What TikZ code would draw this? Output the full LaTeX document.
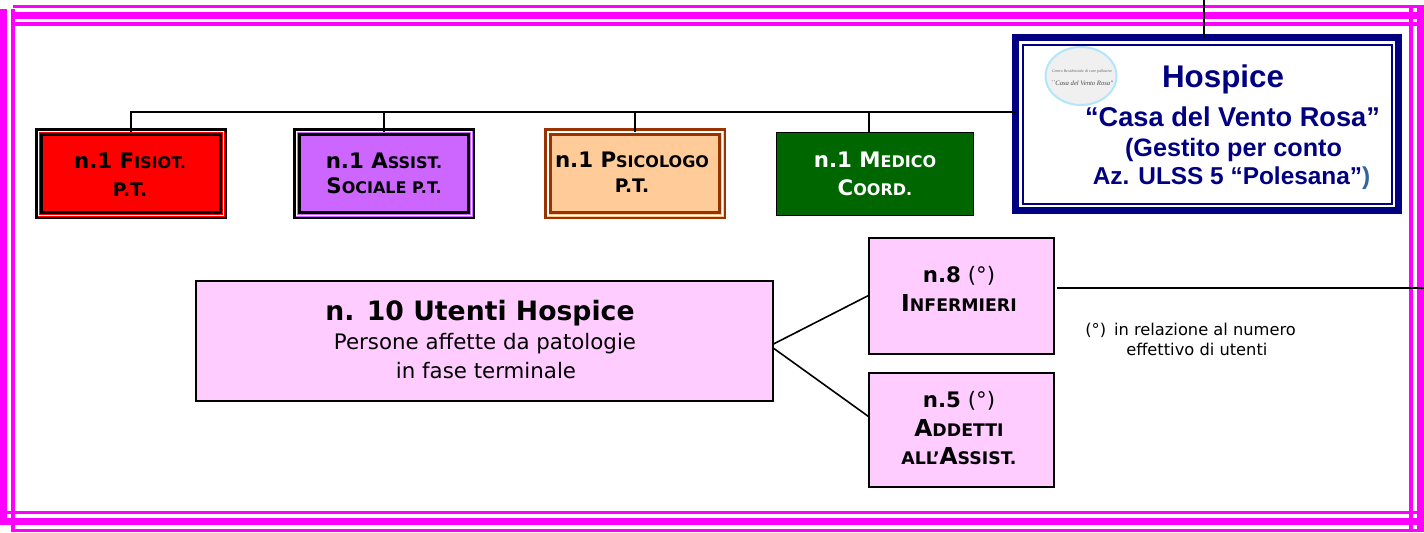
\documentclass[tikz,border=0pt]{standalone}
\usepackage{fontspec}
\usetikzlibrary{calc,shapes.geometric}
\setmainfont{Liberation Sans}
\newfontfamily\tah{DejaVu Sans}
\newfontfamily\logofont{Liberation Serif}
\definecolor{mag}{HTML}{FF00FF}
\definecolor{navy}{HTML}{000080}
\definecolor{lila}{HTML}{CC66FF}
\definecolor{peach}{HTML}{FFCC99}
\definecolor{brownb}{HTML}{993300}
\definecolor{dgreen}{HTML}{006600}
\definecolor{pinkb}{HTML}{FFCCFF}
\definecolor{steel}{HTML}{336699}
\newcommand{\fs}[1]{\fontsize{#1}{#1}\selectfont}
\newcommand{\capA}[2]{{\fs{16}#1\fs{12}#2}}
\newcommand{\capB}[2]{{\fs{17.5}#1\fs{13}#2}}
\newcommand{\insetrect}[4]{\draw[#3,line width=#4*0.75pt] ($(#1.north west)+(#2,#2)$) rectangle ($(#1.south east)+(-#2,-#2)$);}
\tikzset{
  x=0.75pt,y=-0.75pt,
  frameb/.style={fill=mag,draw=none},
  conn/.style={draw=black,line width=1.5pt},
  fan/.style={draw=black,line width=1.2pt},
  boxn/.style={rectangle,inner sep=0pt,outer sep=0pt},
  txt/.style={inner sep=0pt,outer sep=0pt,anchor=base,font=\tah\bfseries},
  hosp/.style={inner sep=0pt,outer sep=0pt,anchor=base,text=navy,font=\bfseries},
  pinkbox/.style={boxn,draw=black,fill=pinkb,line width=1.5pt},
}
\begin{document}
\begin{tikzpicture}
\useasboundingbox (0,0) rectangle (1424,532);
% magenta frame
\fill[frameb] (13,5) rectangle (1424,8);
\fill[frameb] (11,12) rectangle (1424,19);
\fill[frameb] (11,22) rectangle (1424,26);
\fill[frameb] (0,9) rectangle (7,525);
\fill[frameb] (11,9) rectangle (15,532);
\fill[frameb] (1409,8) rectangle (1413,532);
\fill[frameb] (1417,8) rectangle (1424,532);
\fill[frameb] (7,511) rectangle (1424,514);
\fill[frameb] (7,518) rectangle (1424,525);
\fill[frameb] (13,529) rectangle (1424,532);
% boxes
\node[boxn,draw=navy,fill=white,line width=7*0.75pt,minimum width=383*0.75pt,minimum height=173*0.75pt] (hospice) at (1207,124) {};
\insetrect{hospice}{7}{navy}{2}
\node[boxn,draw=black,fill=red,line width=2.5*0.75pt,minimum width=189.5*0.75pt,minimum height=88.5*0.75pt] (fis) at (131,173.5) {};
\insetrect{fis}{2.2}{white}{1}
\insetrect{fis}{5.2}{black}{2.5}
\node[boxn,draw=black,fill=lila,line width=2.5*0.75pt,minimum width=179.5*0.75pt,minimum height=88.5*0.75pt] (ass) at (384,173.5) {};
\insetrect{ass}{2.2}{white}{1}
\insetrect{ass}{5.2}{black}{2.5}
\node[boxn,draw=brownb,fill=peach,line width=2.5*0.75pt,minimum width=179.5*0.75pt,minimum height=88.5*0.75pt] (psi) at (635,173.5) {};
\insetrect{psi}{2.5}{white}{1.5}
\insetrect{psi}{5.5}{brownb}{3}
\node[boxn,draw=black,fill=dgreen,line width=1.5*0.75pt,minimum width=197*0.75pt,minimum height=83*0.75pt] (med) at (875,174) {};
\node[pinkbox,minimum width=577*0.75pt,minimum height=120*0.75pt] (big) at (484,340.5) {};
\node[pinkbox,minimum width=185*0.75pt,minimum height=116*0.75pt] (inf) at (961,295.5) {};
\node[pinkbox,minimum width=185*0.75pt,minimum height=114*0.75pt] (add) at (961,429.5) {};
% connectors
\coordinate (busL) at (130,112);
\coordinate (busM) at (869,112);
\coordinate (topC) at (1204,0);
\coordinate (rightEnd) at (1424,288);
\draw[conn] (busL) -- (hospice.west |- busL);
\draw[conn] (fis.north |- busL) -- ($(fis.north)+(0,3)$);
\draw[conn] (ass.north |- busL) -- ($(ass.north)+(0,3)$);
\draw[conn] (psi.north |- busL) -- ($(psi.north)+(0,3)$);
\draw[conn] (busM) -- (busM |- med.north);
\draw[conn] (topC) -- (topC |- hospice.north);
\draw[fan] ($(big.east)+(0,4)$) -- (inf.west);
\draw[fan] ($(big.east)+(0,7)$) -- ($(add.west)+(0,-13)$);
\draw[conn] ($(inf.east)+(3,-7.5)$) -- (rightEnd);
% logo
\node[ellipse,draw=cyan!30!white,fill=black!6,line width=1.5pt,minimum width=71*0.75pt,minimum height=58*0.75pt,inner sep=0pt] (logo) at (1081,76) {};
\node[inner sep=0pt,text=black!60,font=\logofont\itshape\fs{3}] (logoa) at (1082,72) {Centro Residenziale di cure palliative};
\node[inner sep=0pt,text=black!70,font=\logofont\itshape\fs{5}] (logob) at (1082,83) {``Casa del Vento Rosa''};
% Hospice text
\node[hosp,font=\bfseries\fs{23.5}] (h1) at (1223,87) {Hospice};
\node[hosp,font=\bfseries\fs{20.4}] (h2) at (1232.5,126) {“Casa del Vento Rosa”};
\node[hosp,font=\bfseries\fs{18.9}] (h3) at (1233.5,156) {(Gestito per conto};
\node[hosp,font=\bfseries\fs{18.3}] (h4) at (1231.5,184) {Az. ULSS 5 “Polesana”\textcolor{steel}{)}};
% small boxes text
\node[txt] (f1) at (130,168) {\fs{16}n.1 \capA{F}{ISIOT.}};
\node[txt] (f2) at (130,196) {\fs{14}P.T.};
\node[txt] (a1) at (384,168) {\fs{16}n.1 \capA{A}{SSIST.}};
\node[txt] (a2) at (384,193) {\capA{S}{OCIALE P.T.}};
\node[txt] (p1) at (632,167) {\fs{16}n.1 \capA{P}{SICOLOGO}};
\node[txt] (p2) at (632,192) {\fs{14}P.T.};
\node[txt,text=white] (m1) at (875,167) {\fs{16}n.1 \capA{M}{EDICO}};
\node[txt,text=white] (m2) at (875,195) {\capA{C}{OORD.}};
% central box text
\node[txt,font=\tah\bfseries\fs{20}] (b1) at (480,320) {n. 10 Utenti Hospice};
\node[txt,font=\tah\fs{16}] (b2) at (485,349) {Persone affette da patologie};
\node[txt,font=\tah\fs{16}] (b3) at (486,378) {in fase terminale};
\node[txt,font=\tah\fs{16}] (i1) at (959,282) {\textbf{n.8} {\mdseries(°)}};
\node[txt] (i2) at (959,311) {\capB{I}{NFERMIERI}};
\node[txt,font=\tah\fs{16}] (d1) at (959,407) {\textbf{n.5} {\mdseries(°)}};
\node[txt] (d2) at (959,436) {\capB{A}{DDETTI}};
\node[txt] (d3) at (959,464) {{\fs{13}ALL’}\capB{A}{SSIST.}};
% note
\node[inner sep=0pt,anchor=base west,font=\tah\fs{12.2}] (n1) at (1085,335) {(°)\hspace{6pt}in relazione al numero};
\node[inner sep=0pt,anchor=base west,font=\tah\fs{12.2}] (n2) at (1126,355) {effettivo di utenti};
\end{tikzpicture}
\end{document}
